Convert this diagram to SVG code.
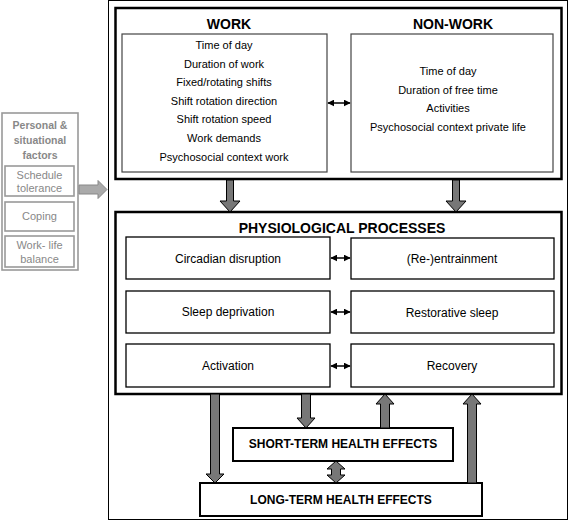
<svg xmlns="http://www.w3.org/2000/svg" width="568" height="521" viewBox="0 0 568 521">
<defs>
<marker id="ah" viewBox="0 0 10 10" refX="9" refY="5" markerWidth="7" markerHeight="7" markerUnits="userSpaceOnUse" orient="auto-start-reverse">
<path d="M0,0 L10,5 L0,10 Z" fill="#000"/>
</marker>
</defs>
<style>
text{font-family:"Liberation Sans",Arial,sans-serif;text-anchor:middle;fill:#000}
.t{font-size:11px}
.p{font-size:12px}
.h{font-size:14px;font-weight:bold}
.hs{font-size:12px;font-weight:bold}
.gb{font-size:10.5px;font-weight:bold;fill:#888}
.gt{font-size:11px;fill:#888}
.frame{fill:#fff;stroke:#000;stroke-width:1}
.big{fill:#fff;stroke:#000;stroke-width:2.5}
.inner{fill:#fff;stroke:#444;stroke-width:1.2}
.pb{fill:#fff;stroke:#000;stroke-width:1.3}
.hb{fill:#fff;stroke:#000;stroke-width:2}
.gbox{fill:#fff;stroke:#999;stroke-width:1.6}
.blk{fill:#777;stroke:#000;stroke-width:1}
.dbl{stroke:#000;stroke-width:1.5;fill:none}
</style>
<rect class="frame" x="108.5" y="0.5" width="459" height="519"/>

<g id="personal">
<rect class="gbox" x="2" y="113" width="76" height="157"/>
<text class="gb" x="40" y="129">Personal &amp;</text>
<text class="gb" x="40" y="144">situational</text>
<text class="gb" x="40" y="159">factors</text>
<rect class="gbox" x="5" y="166" width="69" height="30"/>
<text class="gt" x="39.5" y="179">Schedule</text>
<text class="gt" x="39.5" y="192">tolerance</text>
<rect class="gbox" x="5" y="202" width="69" height="29"/>
<text class="gt" x="39.5" y="220">Coping</text>
<rect class="gbox" x="5" y="236" width="69" height="31"/>
<text class="gt" x="39.5" y="249">Work- life</text>
<text class="gt" x="39.5" y="263">balance</text>
</g>

<g id="top">
<rect class="big" x="115.5" y="8" width="446" height="171"/>
<text class="h" x="229" y="29">WORK</text>
<text class="h" x="453" y="29">NON-WORK</text>
</g>

<g id="work">
<rect class="inner" x="122" y="34" width="205" height="138"/>
<text class="t" x="224" y="49">Time of day</text>
<text class="t" x="224" y="67.5">Duration of work</text>
<text class="t" x="224" y="86">Fixed/rotating shifts</text>
<text class="t" x="224" y="105">Shift rotation direction</text>
<text class="t" x="224" y="123">Shift rotation speed</text>
<text class="t" x="224" y="142">Work demands</text>
<text class="t" x="224" y="161">Psychosocial context work</text>
</g>

<g id="nonwork">
<rect class="inner" x="351" y="34" width="202" height="138"/>
<text class="t" x="448" y="75">Time of day</text>
<text class="t" x="448" y="94">Duration of free time</text>
<text class="t" x="448" y="112">Activities</text>
<text class="t" x="448" y="131">Psychosocial context private life</text>
</g>

<g id="physio">
<rect class="big" x="115.5" y="212" width="446" height="182"/>
<text class="h" x="342" y="233">PHYSIOLOGICAL PROCESSES</text>
</g>
<g id="circadian"><rect class="pb" x="126" y="237" width="204" height="42"/><text class="p" x="228" y="263">Circadian disruption</text></g>
<g id="sleepdep"><rect class="pb" x="126" y="291" width="204" height="42"/><text class="p" x="228" y="316">Sleep deprivation</text></g>
<g id="activation"><rect class="pb" x="126" y="344" width="204" height="43"/><text class="p" x="228" y="370">Activation</text></g>
<g id="reentrain"><rect class="pb" x="351" y="238" width="203" height="41"/><text class="p" x="452" y="263">(Re-)entrainment</text></g>
<g id="restorative"><rect class="pb" x="351" y="291" width="203" height="42"/><text class="p" x="452" y="317">Restorative sleep</text></g>
<g id="recovery"><rect class="pb" x="351" y="344" width="203" height="43"/><text class="p" x="452" y="370">Recovery</text></g>

<g id="short"><rect class="hb" x="233" y="428" width="220" height="33"/><text class="hs" x="343" y="448">SHORT-TERM HEALTH EFFECTS</text></g>
<g id="long"><rect class="hb" x="200" y="483" width="282" height="33"/><text class="hs" x="341" y="504">LONG-TERM HEALTH EFFECTS</text></g>

<g id="connectors">
<path d="M79,185 H98 V180.5 L107,189.5 L98,198.5 V194 H79 Z" fill="#aaa" stroke="#888" stroke-width="1"/>
<path class="blk" d="M226.5,180 H233.5 V201 H240 L230,212 L220,201 H226.5 Z"/>
<path class="blk" d="M452.5,180 H459.5 V201 H466 L456,212 L446,201 H452.5 Z"/>
<path class="blk" d="M210.5,394 H219.5 V474 H224 L215,483 L206,474 H210.5 Z"/>
<path class="blk" d="M301.5,394 H310.5 V418 H315 L306,428 L297,418 H301.5 Z"/>
<path class="blk" d="M380.5,428 H389.5 V404 H394 L385,394 L376,404 H380.5 Z"/>
<path class="blk" d="M467.5,483 H476.5 V404 H481 L472,394 L463,404 H467.5 Z"/>
<path class="blk" d="M336,461 L345,469 H340.5 V475 H345 L336,483 L327,475 H331.5 V469 H327 Z"/>
<line class="dbl" x1="328" y1="103" x2="350" y2="103" marker-start="url(#ah)" marker-end="url(#ah)"/>
<line class="dbl" x1="331" y1="258" x2="350" y2="258" marker-start="url(#ah)" marker-end="url(#ah)"/>
<line class="dbl" x1="331" y1="312" x2="350" y2="312" marker-start="url(#ah)" marker-end="url(#ah)"/>
<line class="dbl" x1="331" y1="366" x2="350" y2="366" marker-start="url(#ah)" marker-end="url(#ah)"/>
</g>
</svg>
